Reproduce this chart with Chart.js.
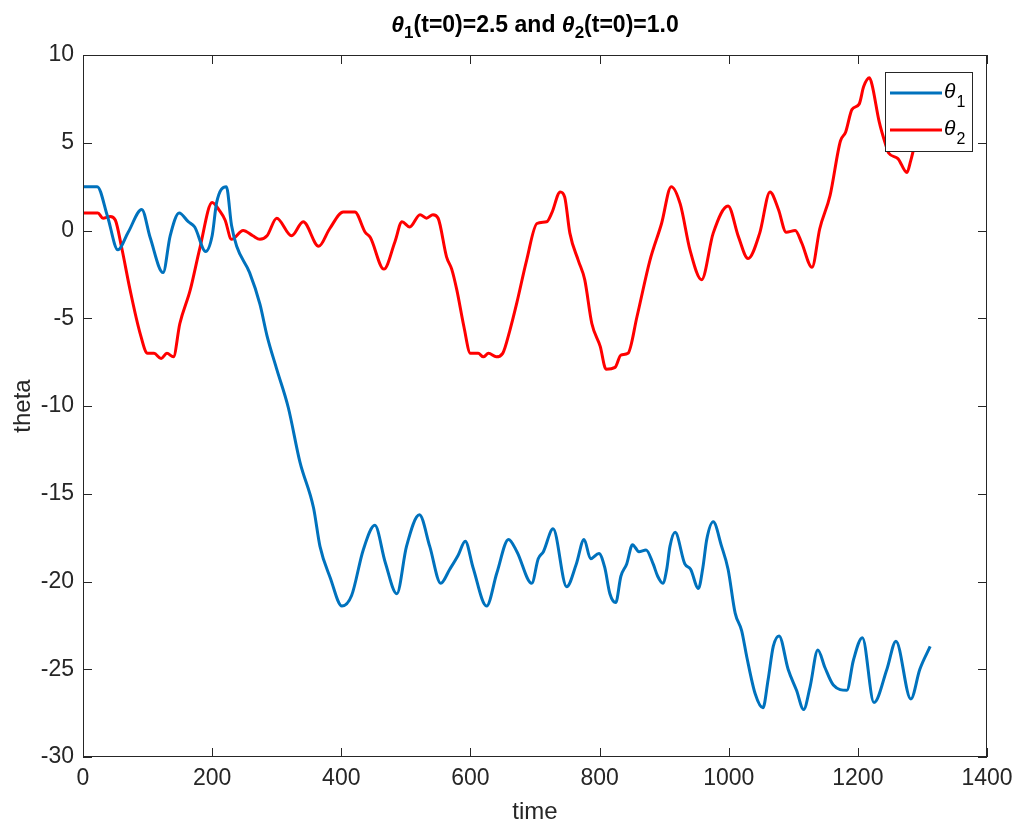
<!DOCTYPE html>
<html>
<head>
<meta charset="utf-8">
<script src="https://cdn.jsdelivr.net/npm/chart.js@4.4.0/dist/chart.umd.min.js"></script>
<style>
  html, body { margin: 0; padding: 0; background: #fff; }
  #wrap { width: 1016px; height: 825px; }
</style>
</head>
<body>
<div id="wrap"><canvas id="c" width="1016" height="825"></canvas></div>
<script>
// values
var t1 = [0, 22, 38, 54, 70, 91, 104, 124, 135, 149, 163, 173, 190, 200, 207, 222, 230, 238, 258, 274, 285, 300, 318, 336, 357, 367, 383, 401, 416, 434, 452, 468, 486, 501, 521, 537, 554, 568, 581, 592, 604, 625, 641, 659, 672, 695, 705, 713, 728, 749, 764, 776, 786, 799, 808, 816, 825, 833, 842, 851, 861, 872, 883, 890, 898, 904, 909, 917, 932, 941, 953, 960, 966, 976, 989, 999, 1010, 1020, 1028, 1041, 1053, 1061, 1069, 1078, 1092, 1105, 1116, 1126, 1138, 1149, 1162, 1183, 1193, 1207, 1225, 1245, 1259, 1282, 1296, 1312];
var theta1 = [2.5, 2.5, 0.8, -1.1, -0.1, 1.2, -0.4, -2.4, -0.3, 1.0, 0.5, 0.2, -1.2, -0.3, 1.6, 2.5, 0.3, -0.9, -2.4, -4.2, -6.0, -7.9, -10.1, -13.2, -15.8, -18.0, -19.8, -21.4, -20.8, -18.2, -16.8, -18.9, -20.7, -18.0, -16.2, -18.0, -20.1, -19.3, -18.5, -17.7, -19.2, -21.4, -19.5, -17.6, -18.3, -20.1, -18.7, -18.3, -17.0, -20.3, -19.0, -17.6, -18.7, -18.4, -19.2, -20.7, -21.2, -19.7, -19.0, -17.9, -18.3, -18.2, -19.0, -19.7, -20.1, -19.3, -18.0, -17.2, -19.0, -19.3, -20.4, -19.2, -17.6, -16.6, -18.0, -19.3, -21.8, -22.8, -24.3, -26.4, -27.2, -25.6, -23.7, -23.1, -25.0, -26.2, -27.3, -26.0, -23.9, -24.9, -25.9, -26.2, -24.5, -23.2, -26.9, -25.0, -23.4, -26.7, -25.0, -23.7];

var t2 = [0, 23, 31, 42, 50, 60, 73, 88, 100, 110, 121, 130, 140, 150, 166, 181, 200, 212, 220, 230, 248, 263, 274, 285, 300, 323, 341, 365, 382, 403, 421, 437, 445, 466, 483, 494, 506, 522, 532, 542, 550, 563, 571, 579, 590, 600, 612, 620, 628, 640, 650, 661, 672, 687, 703, 718, 726, 739, 746, 754, 767, 777, 788, 801, 810, 824, 833, 844, 858, 878, 896, 911, 925, 940, 958, 976, 999, 1015, 1030, 1048, 1064, 1077, 1089, 1103, 1113, 1129, 1141, 1157, 1173, 1181, 1191, 1202, 1209, 1218, 1222, 1233, 1243, 1248, 1262, 1276, 1282, 1290, 1311];
var theta2 = [1.0, 1.0, 0.7, 0.8, 0.6, -1.0, -3.4, -5.8, -7.0, -7.0, -7.3, -7.0, -7.2, -5.3, -3.4, -1.0, 1.6, 1.1, 0.6, -0.5, 0.0, -0.3, -0.5, -0.3, 0.7, -0.3, 0.5, -0.9, 0.1, 1.05, 1.05, -0.1, -0.4, -2.2, -0.65, 0.5, 0.2, 0.9, 0.7, 0.9, 0.7, -1.5, -2.2, -3.4, -5.5, -7.0, -7.0, -7.2, -7.0, -7.2, -7.0, -5.7, -4.1, -1.7, 0.4, 0.5, 1.0, 2.2, 1.9, -0.15, -1.7, -2.8, -5.3, -6.6, -7.9, -7.8, -7.1, -7.0, -4.9, -1.7, 0.4, 2.5, 1.5, -1.1, -2.8, -0.15, 1.4, -0.35, -1.6, -0.15, 2.2, 1.2, -0.1, 0.0, -0.7, -2.1, 0.1, 2.0, 5.1, 5.6, 6.9, 7.2, 8.2, 8.7, 8.3, 6.2, 4.9, 4.4, 4.1, 3.3, 4.0, 5.1, 6.0];

var xTicks = [0, 200, 400, 600, 800, 1000, 1200, 1400];
var yTicks = [10, 5, 0, -5, -10, -15, -20, -25, -30];
var seriesNames = ['θ', 'θ'];
var seriesSubs = ['1', '2'];
var titleParts = [['θ', '1', '(t=0)=2.5 and '], ['θ', '2', '(t=0)=1.0']];

var axisColor = '#262626';
var blue = '#0072BD';
var red = '#FF0000';
var fam = '"Liberation Sans", Arial, sans-serif';

function pts(xs, ys) {
  return xs.map(function (x, i) { return { x: x, y: ys[i] }; });
}

// box, inward ticks, title, legend, axis labels - drawn like the original
var frame = {
  id: 'frame',
  afterDraw: function (chart) {
    var ctx = chart.ctx, a = chart.chartArea;
    var xs = chart.scales.x, ys = chart.scales.y;
    ctx.save();
    ctx.strokeStyle = axisColor;
    ctx.lineWidth = 1;
    ctx.strokeRect(a.left + 0.5, a.top + 0.5, a.right - a.left - 1, a.bottom - a.top - 1);
    ctx.beginPath();
    xTicks.forEach(function (v) {
      var px = Math.round(xs.getPixelForValue(v)) + 0.5;
      ctx.moveTo(px, a.bottom); ctx.lineTo(px, a.bottom - 9);
      ctx.moveTo(px, a.top); ctx.lineTo(px, a.top + 9);
    });
    yTicks.forEach(function (v) {
      var py = Math.round(ys.getPixelForValue(v)) + 0.5;
      ctx.moveTo(a.left, py); ctx.lineTo(a.left + 9, py);
      ctx.moveTo(a.right, py); ctx.lineTo(a.right - 9, py);
    });
    ctx.stroke();

    // title
    ctx.fillStyle = '#000';
    ctx.textBaseline = 'alphabetic';
    var big = 'bold 23px ' + fam;
    var bigIt = 'italic bold 23px ' + fam;
    var small = 'bold 17px ' + fam;
    var w = 0;
    titleParts.forEach(function (p) {
      ctx.font = bigIt; w += ctx.measureText(p[0]).width;
      ctx.font = small; w += ctx.measureText(p[1]).width;
      ctx.font = big; w += ctx.measureText(p[2]).width;
    });
    var x = (a.left + a.right) / 2 - w / 2, base = 32;
    titleParts.forEach(function (p) {
      ctx.font = bigIt; ctx.fillText(p[0], x, base); x += ctx.measureText(p[0]).width;
      ctx.font = small; ctx.fillText(p[1], x, base + 6); x += ctx.measureText(p[1]).width;
      ctx.font = big; ctx.fillText(p[2], x, base); x += ctx.measureText(p[2]).width;
    });

    // axis labels
    ctx.fillStyle = axisColor;
    ctx.font = '24px ' + fam;
    ctx.textAlign = 'center';
    ctx.fillText('time', (a.left + a.right) / 2, 819);
    ctx.save();
    ctx.translate(30, (a.top + a.bottom) / 2);
    ctx.rotate(-Math.PI / 2);
    ctx.fillText('theta', 0, 0);
    ctx.restore();

    // legend
    var lx = 885, ly = 72, lw = 87, lh = 79;
    ctx.fillStyle = '#fff';
    ctx.fillRect(lx, ly, lw, lh);
    ctx.strokeStyle = axisColor;
    ctx.lineWidth = 1;
    ctx.strokeRect(lx + 0.5, ly + 0.5, lw, lh);
    var colors = [blue, red], rows = [93, 130];
    ctx.textAlign = 'left';
    for (var i = 0; i < 2; i++) {
      ctx.strokeStyle = colors[i];
      ctx.lineWidth = 3;
      ctx.beginPath();
      ctx.moveTo(890, rows[i]); ctx.lineTo(942, rows[i]);
      ctx.stroke();
      ctx.fillStyle = '#000';
      ctx.font = 'italic 21px ' + fam;
      ctx.fillText(seriesNames[i], 944, rows[i] + 5);
      var tw = ctx.measureText(seriesNames[i]).width;
      ctx.font = '16px ' + fam;
      ctx.fillText(seriesSubs[i], 944 + tw + 1, rows[i] + 14);
    }
    ctx.restore();
  }
};

new Chart(document.getElementById('c'), {
  type: 'line',
  data: {
    datasets: [{
      label: 'theta1',
      data: pts(t1, theta1),
      borderColor: blue,
      borderWidth: 3,
      pointRadius: 0,
      cubicInterpolationMode: 'monotone',
      fill: false
    }, {
      label: 'theta2',
      data: pts(t2, theta2),
      borderColor: red,
      borderWidth: 3,
      pointRadius: 0,
      cubicInterpolationMode: 'monotone',
      fill: false
    }]
  },
  options: {
    responsive: false,
    animation: false,
    layout: { padding: { left: 0, right: 29, top: 55, bottom: 0 } },
    plugins: { legend: { display: false }, title: { display: false }, tooltip: { enabled: false } },
    scales: {
      x: {
        type: 'linear', min: 0, max: 1400,
        afterFit: function (s) { s.height = 68; s.paddingLeft = 0; s.paddingRight = 0; },
        afterBuildTicks: function (s) { s.ticks = xTicks.map(function (v) { return { value: v }; }); },
        grid: { display: false, drawTicks: false },
        border: { display: false },
        ticks: {
          color: axisColor, padding: 8, maxRotation: 0,
          font: { family: fam, size: 23 },
          callback: function (v) { return String(v); }
        }
      },
      y: {
        type: 'linear', min: -30, max: 10,
        afterFit: function (s) { s.width = 83; s.paddingTop = 0; s.paddingBottom = 0; },
        afterBuildTicks: function (s) { s.ticks = yTicks.map(function (v) { return { value: v }; }); },
        grid: { display: false, drawTicks: false },
        border: { display: false },
        ticks: {
          color: axisColor, padding: 9,
          font: { family: fam, size: 23 },
          callback: function (v) { return String(v); }
        }
      }
    }
  },
  plugins: [frame]
});
</script>
</body>
</html>
